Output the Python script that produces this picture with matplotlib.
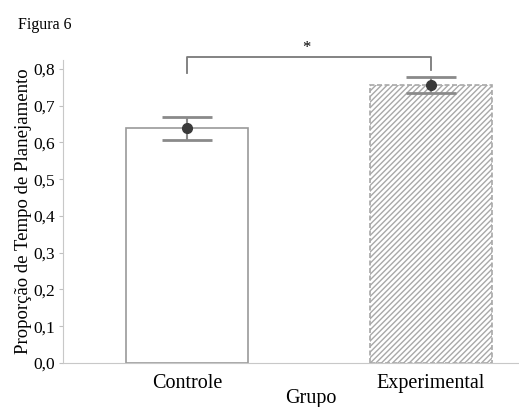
import matplotlib
matplotlib.use("Agg")
import matplotlib.pyplot as plt
from matplotlib.ticker import FuncFormatter

plt.rcParams['font.family'] = ['Liberation Serif', 'DejaVu Serif']
plt.rcParams['hatch.color'] = '#b8b8b8'
plt.rcParams['hatch.linewidth'] = 1.0

grupos = ['Controle', 'Experimental']
medias = [0.638, 0.757]
erro_inf = [0.031, 0.022]
erro_sup = [0.031, 0.021]
yticks = [0.0, 0.1, 0.2, 0.3, 0.4, 0.5, 0.6, 0.7, 0.8]

fig = plt.figure(figsize=(5.19, 4.07), dpi=100)
ax = fig.add_axes([63 / 519, 44 / 407, 456 / 519, 303 / 407])

pos = [0, 1]
b = ax.bar(pos, medias, width=0.5, color='white', edgecolor='#9a9a9a', linewidth=1.2)
b[1].set_hatch('//////')
b[1].set_linestyle((0, (3, 1.5)))
b[1].set_edgecolor('#a8a8a8')

ax.errorbar(pos, medias, yerr=[erro_inf, erro_sup], fmt='o', color='#3a3a3a',
            markersize=7, ecolor='#8a8a8a', elinewidth=1.5, capsize=18, capthick=2)

# bracket de significância
ax.plot([0, 0, 1, 1], [0.79, 0.833, 0.833, 0.797], color='#7a7a7a', lw=1.3, clip_on=False)
ax.text(0.49, 0.836, '*', ha='center', va='bottom', fontsize=12)

ax.set_xlim(-0.508, 1.36)
ax.set_ylim(0, 0.824)
ax.set_yticks(yticks)
ax.yaxis.set_major_formatter(FuncFormatter(lambda v, p: ('%.1f' % v).replace('.', ',')))
ax.set_xticks(pos)
ax.set_xticklabels(grupos, fontsize=14.5)
ax.tick_params(axis='y', labelsize=12.5, length=3, pad=3, color='#c0c0c0')
ax.tick_params(axis='x', length=0, pad=8)
for s in ['top', 'right']:
    ax.spines[s].set_visible(False)
for s in ['left', 'bottom']:
    ax.spines[s].set_color('#c8c8c8')
ax.set_ylabel('Proporção de Tempo de Planejamento', fontsize=13.5, labelpad=1)

fig.text(311 / 519, 1 - 398 / 407, 'Grupo', fontsize=14.5, ha='center', va='center')
fig.text(18 / 519, 1 - 25 / 407, 'Figura 6', fontsize=11.5, va='center')

fig.savefig('out.png', dpi=100)
